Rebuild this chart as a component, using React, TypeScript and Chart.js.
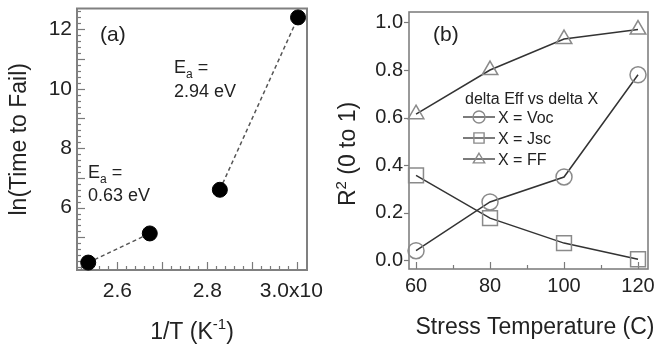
import React, { useEffect, useRef } from 'react';
import { Chart, registerables } from 'chart.js';

Chart.register(...registerables);

const FONT = '"Liberation Sans", Arial, sans-serif';
const TEXT = '#222';

// ---------- Panel (a) data ----------
const invTemp = [2.535, 2.672, 2.828, 3.002];
const lnTimeToFail = [4.15, 5.13, 6.6, 12.4];
const xTicksA = [2.6, 2.8, 3.0];
const yTicksA = [6, 8, 10, 12];
const eaLow = '0.63 eV';
const eaHigh = '2.94 eV';

// ---------- Panel (b) data ----------
const stressTemp = [60, 80, 100, 120];
const r2Voc = [0.04, 0.245, 0.35, 0.78];
const r2Jsc = [0.357, 0.177, 0.072, 0.004];
const r2FF = [0.614, 0.8, 0.93, 0.97];
const xTicksB = [60, 80, 100, 120];
const yTicksB = [0, 0.2, 0.4, 0.6, 0.8, 1.0];
const legendTitle = 'delta Eff vs delta X';
const seriesNames = ['X = Voc', 'X = Jsc', 'X = FF'];
const seriesStyles = ['circle', 'rect', 'triangle'];

type Part = { t: string; s?: 'sup' | 'sub' };

function drawRich(ctx: CanvasRenderingContext2D, parts: Part[], x: number, y: number, size: number, align: 'left' | 'center') {
  const fontFor = (p: Part) => `${p.s ? Math.round(size * 0.65) : size}px ${FONT}`;
  let w = 0;
  for (const p of parts) {
    ctx.font = fontFor(p);
    w += ctx.measureText(p.t).width;
  }
  let cx = align === 'center' ? x - w / 2 : x;
  ctx.textAlign = 'left';
  ctx.textBaseline = 'alphabetic';
  for (const p of parts) {
    ctx.font = fontFor(p);
    const dy = p.s === 'sup' ? -size * 0.42 : p.s === 'sub' ? size * 0.28 : 0;
    ctx.fillText(p.t, cx, y + dy);
    cx += ctx.measureText(p.t).width;
  }
}

function drawRotated(ctx: CanvasRenderingContext2D, parts: Part[], cx: number, cy: number, size: number) {
  ctx.save();
  ctx.translate(cx, cy);
  ctx.rotate(-Math.PI / 2);
  drawRich(ctx, parts, 0, size * 0.36, size, 'center');
  ctx.restore();
}

function drawMarker(ctx: CanvasRenderingContext2D, style: string, x: number, y: number, r: number) {
  ctx.beginPath();
  if (style === 'circle') {
    ctx.arc(x, y, r, 0, Math.PI * 2);
  } else if (style === 'rect') {
    const s = r * 0.85;
    ctx.rect(x - s, y - s, 2 * s, 2 * s);
  } else {
    const h = r * 1.6;
    ctx.moveTo(x, y - h * 0.6);
    ctx.lineTo(x + r * 0.95, y + h * 0.4);
    ctx.lineTo(x - r * 0.95, y + h * 0.4);
    ctx.closePath();
  }
  ctx.stroke();
}

const fixSize = (w: number | null, h: number | null) => (scale: any) => {
  if (w !== null) scale.width = w;
  if (h !== null) scale.height = h;
  scale.paddingLeft = 0;
  scale.paddingRight = 0;
  scale.paddingTop = 0;
  scale.paddingBottom = 0;
};

const decorA = {
  id: 'decorA',
  beforeDatasetsDraw(chart: any) {
    const { ctx, chartArea, scales } = chart;
    const { left, right, top, bottom } = chartArea;
    const x = scales.x;
    const y = scales.y;
    ctx.save();
    ctx.strokeStyle = '#7a7a7a';
    ctx.lineWidth = 1.2;
    for (let k = 126; k <= 151; k++) {
      const px = Math.round(x.getPixelForValue(k * 0.02)) + 0.5;
      if (px < left + 1 || px > right - 1) continue;
      const len = k % 5 === 0 ? 8 : 4;
      ctx.beginPath();
      ctx.moveTo(px, bottom);
      ctx.lineTo(px, bottom - len);
      ctx.stroke();
    }
    for (let k = 20; k <= 63; k++) {
      const py = Math.round(y.getPixelForValue(k * 0.2)) + 0.5;
      if (py < top + 1 || py > bottom - 1) continue;
      const len = k % 5 === 0 ? 8 : 4;
      ctx.beginPath();
      ctx.moveTo(left, py);
      ctx.lineTo(left + len, py);
      ctx.stroke();
    }
    ctx.lineWidth = 2;
    ctx.strokeStyle = '#808080';
    ctx.strokeRect(left, top, right - left, bottom - top);
    ctx.restore();
  },
  afterDraw(chart: any) {
    const { ctx, chartArea } = chart;
    ctx.save();
    ctx.fillStyle = TEXT;
    drawRich(ctx, [{ t: '(a)' }], 100, 41, 21, 'left');
    drawRich(ctx, [{ t: 'E' }, { t: 'a', s: 'sub' }, { t: ' =' }], 174, 73, 18, 'left');
    drawRich(ctx, [{ t: eaHigh }], 174, 97, 18, 'left');
    drawRich(ctx, [{ t: 'E' }, { t: 'a', s: 'sub' }, { t: ' =' }], 88, 178, 18, 'left');
    drawRich(ctx, [{ t: eaLow }], 88, 201, 18, 'left');
    drawRich(ctx, [{ t: '1/T (K' }, { t: '-1', s: 'sup' }, { t: ')' }], (chartArea.left + chartArea.right) / 2, 339, 23, 'center');
    drawRotated(ctx, [{ t: 'ln(Time to Fail)' }], 18, (chartArea.top + chartArea.bottom) / 2, 23);
    ctx.restore();
  },
};

const decorB = {
  id: 'decorB',
  beforeDatasetsDraw(chart: any) {
    const { ctx, chartArea, scales } = chart;
    const { left, right, top, bottom } = chartArea;
    const x = scales.x;
    const y = scales.y;
    ctx.save();
    ctx.strokeStyle = '#7a7a7a';
    ctx.lineWidth = 1.2;
    for (let v = 60; v <= 120; v += 10) {
      const px = Math.round(x.getPixelForValue(v)) + 0.5;
      const len = v % 20 === 0 ? 7 : 4;
      ctx.beginPath();
      ctx.moveTo(px, bottom);
      ctx.lineTo(px, bottom - len);
      ctx.stroke();
    }
    for (const v of yTicksB) {
      const py = Math.round(y.getPixelForValue(v)) + 0.5;
      ctx.beginPath();
      ctx.moveTo(left - 5, py);
      ctx.lineTo(left, py);
      ctx.stroke();
    }
    ctx.lineWidth = 1.6;
    ctx.strokeStyle = '#808080';
    ctx.strokeRect(left, top, right - left, bottom - top);
    ctx.restore();
  },
  afterDraw(chart: any) {
    const { ctx } = chart;
    ctx.save();
    ctx.fillStyle = TEXT;
    drawRich(ctx, [{ t: '(b)' }], 103, 41, 21, 'left');
    drawRich(ctx, [{ t: legendTitle }], 135, 104, 16, 'left');
    const baselines = [123, 144, 165];
    seriesNames.forEach((name, i) => {
      const by = baselines[i];
      const my = by - 6;
      ctx.strokeStyle = '#333';
      ctx.lineWidth = 1.3;
      ctx.beginPath();
      ctx.moveTo(133, my);
      ctx.lineTo(165, my);
      ctx.stroke();
      ctx.strokeStyle = '#8a8a8a';
      ctx.lineWidth = 1.4;
      drawMarker(ctx, seriesStyles[i], 149, my, 6);
      ctx.fillStyle = TEXT;
      drawRich(ctx, [{ t: name }], 168, by, 16, 'left');
    });
    drawRich(ctx, [{ t: 'Stress Temperature (C)' }], 205, 334, 23, 'center');
    drawRotated(ctx, [{ t: 'R' }, { t: '2', s: 'sup' }, { t: ' (0 to 1)' }], 17, 154, 23);
    ctx.restore();
  },
};

function makeLineDs(values: number[], style: string, radius: number) {
  return {
    data: stressTemp.map((t, i) => ({ x: t, y: values[i] })),
    showLine: true,
    borderColor: '#333',
    borderWidth: 1.5,
    tension: 0,
    pointStyle: style,
    pointRadius: radius,
    pointBorderColor: '#8a8a8a',
    pointBackgroundColor: 'rgba(255,255,255,0)',
    pointBorderWidth: 1.5,
    clip: false,
  };
}

export default function App() {
  const refA = useRef<HTMLCanvasElement>(null);
  const refB = useRef<HTMLCanvasElement>(null);

  useEffect(() => {
    Chart.defaults.font.family = FONT;
    Chart.defaults.color = TEXT;

    const chartA = new Chart(refA.current as HTMLCanvasElement, {
      type: 'scatter',
      data: {
        datasets: [
          {
            data: invTemp.map((x, i) => ({ x, y: lnTimeToFail[i] })),
            showLine: true,
            borderColor: '#555',
            borderWidth: 1.5,
            borderDash: [4, 3],
            segment: {
              borderColor: (c: any) => (c.p0DataIndex === 1 ? 'rgba(0,0,0,0)' : '#555'),
            },
            pointRadius: 7.5,
            pointBackgroundColor: '#000',
            pointBorderColor: '#000',
            pointBorderWidth: 1,
            clip: false,
          } as any,
        ],
      },
      options: {
        responsive: false,
        animation: false,
        events: [],
        layout: { padding: { left: 0, right: 23, top: 3, bottom: 0 } },
        plugins: { legend: { display: false }, tooltip: { enabled: false } },
        scales: {
          x: {
            type: 'linear',
            min: 2.51,
            max: 3.022,
            afterBuildTicks: (s: any) => { s.ticks = xTicksA.map((v) => ({ value: v })); },
            afterFit: fixSize(null, 80),
            grid: { display: false, drawTicks: false },
            border: { display: false },
            ticks: {
              padding: 9,
              maxRotation: 0,
              autoSkip: false,
              font: { size: 21 },
              color: TEXT,
              callback: (v: any) => (Number(v) === 3 ? '3.0x10  ' : Number(v).toFixed(1)),
            },
          },
          y: {
            type: 'linear',
            min: 3.9,
            max: 12.7,
            afterBuildTicks: (s: any) => { s.ticks = yTicksA.map((v) => ({ value: v })); },
            afterFit: fixSize(77, null),
            grid: { display: false, drawTicks: false },
            border: { display: false },
            ticks: {
              padding: 5,
              autoSkip: false,
              font: { size: 21 },
              color: TEXT,
              callback: (v: any) => String(v),
            },
          },
        },
      } as any,
      plugins: [decorA],
    });

    const chartB = new Chart(refB.current as HTMLCanvasElement, {
      type: 'scatter',
      data: {
        datasets: [
          makeLineDs(r2Voc, 'circle', 8),
          makeLineDs(r2Jsc, 'rect', 10.5),
          makeLineDs(r2FF, 'triangle', 9),
        ] as any,
      },
      options: {
        responsive: false,
        animation: false,
        events: [],
        layout: { padding: { left: 0, right: 10, top: 5, bottom: 0 } },
        plugins: { legend: { display: false }, tooltip: { enabled: false } },
        scales: {
          x: {
            type: 'linear',
            min: 58.1,
            max: 122.7,
            afterBuildTicks: (s: any) => { s.ticks = xTicksB.map((v) => ({ value: v })); },
            afterFit: fixSize(null, 81),
            grid: { display: false, drawTicks: false },
            border: { display: false },
            ticks: {
              padding: 5,
              maxRotation: 0,
              autoSkip: false,
              font: { size: 20 },
              color: TEXT,
              callback: (v: any) => String(v),
            },
          },
          y: {
            type: 'linear',
            min: -0.037,
            max: 1.044,
            afterBuildTicks: (s: any) => { s.ticks = yTicksB.map((v) => ({ value: v })); },
            afterFit: fixSize(79, null),
            grid: { display: false, drawTicks: false },
            border: { display: false },
            ticks: {
              padding: 6,
              autoSkip: false,
              font: { size: 20 },
              color: TEXT,
              callback: (v: any) => Number(v).toFixed(1),
            },
          },
        },
      } as any,
      plugins: [decorB],
    });

    return () => {
      chartA.destroy();
      chartB.destroy();
    };
  }, []);

  return (
    <div style={{ position: 'absolute', left: 0, top: 0, width: 660, height: 350, background: '#fff' }}>
      <canvas ref={refA} width={330} height={350} style={{ position: 'absolute', left: 0, top: 0, display: 'block' }} />
      <canvas ref={refB} width={330} height={350} style={{ position: 'absolute', left: 330, top: 0, display: 'block' }} />
    </div>
  );
}
